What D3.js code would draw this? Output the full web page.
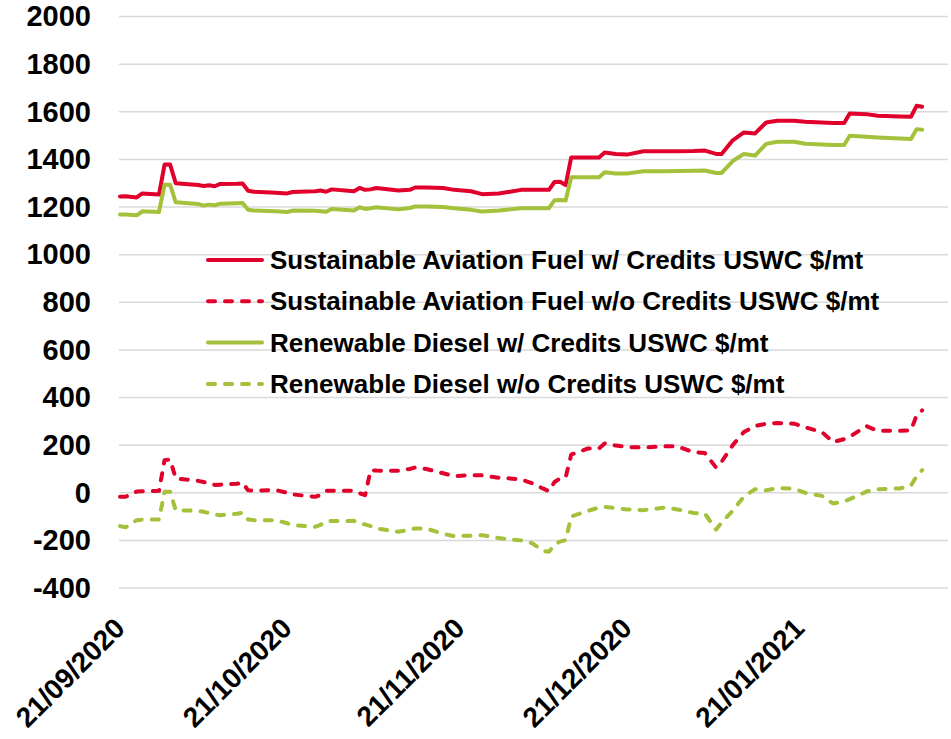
<!DOCTYPE html>
<html>
<head>
<meta charset="utf-8">
<script src="https://cdn.jsdelivr.net/npm/d3@7"></script>
<style>
  body { margin: 0; background: #ffffff; }
  text { font-family: "Liberation Sans", Arial, sans-serif; font-weight: bold; fill: #000000; }
</style>
</head>
<body>
<div id="grafiekContainer"></div>
<script>

// datums van de metingen
var datums = [
  "2020-09-21","2020-09-22","2020-09-24","2020-09-25","2020-09-28","2020-09-29","2020-09-30","2020-10-01",
  "2020-10-05","2020-10-06","2020-10-07","2020-10-08","2020-10-09","2020-10-12","2020-10-13","2020-10-14",
  "2020-10-15","2020-10-19","2020-10-21","2020-10-22","2020-10-26","2020-10-27","2020-10-28","2020-10-29",
  "2020-11-02","2020-11-03","2020-11-04","2020-11-05","2020-11-06","2020-11-10","2020-11-12","2020-11-13",
  "2020-11-15","2020-11-18","2020-11-20","2020-11-23","2020-11-25","2020-11-28","2020-11-30","2020-12-02",
  "2020-12-04","2020-12-06","2020-12-07","2020-12-08","2020-12-09","2020-12-10","2020-12-11","2020-12-14",
  "2020-12-16","2020-12-17","2020-12-19","2020-12-21","2020-12-24","2020-12-28","2020-12-30","2021-01-02",
  "2021-01-04","2021-01-06","2021-01-07","2021-01-09","2021-01-11","2021-01-13","2021-01-15","2021-01-17",
  "2021-01-20","2021-01-22","2021-01-25","2021-01-27","2021-01-29","2021-01-30","2021-02-02","2021-02-04",
  "2021-02-08","2021-02-10","2021-02-11","2021-02-12"];

// Sustainable Aviation Fuel w/ Credits
var safMet = [
  1244, 1245, 1240, 1257, 1252, 1378, 1378, 1300,
  1292, 1288, 1291, 1287, 1297, 1298, 1299, 1268,
  1264, 1260, 1257, 1263, 1266, 1269, 1264, 1274,
  1266, 1280, 1272, 1274, 1280, 1269, 1272, 1282,
  1282, 1280, 1272, 1266, 1254, 1257, 1264, 1272,
  1272, 1272, 1272, 1305, 1306, 1292, 1408, 1408,
  1408, 1429, 1423, 1420, 1434, 1434, 1434, 1435,
  1437, 1423, 1423, 1480, 1513, 1509, 1555, 1562,
  1562, 1558, 1555, 1553, 1553, 1593, 1590, 1583,
  1580, 1579, 1625, 1621];

// Sustainable Aviation Fuel w/o Credits
var safZonder = [
  -17, -17, 5, 6, 8, 137, 140, 60,
  50, 45, 40, 33, 34, 38, 42, 10,
  9, 11, 0, -7, -17, -10, 8, 8,
  8, -2, -10, 95, 93, 92, 100, 106,
  100, 82, 70, 74, 73, 63, 60, 56,
  40, 17, 7, 45, 60, 64, 160, 186,
  186, 207, 198, 192, 190, 195, 195, 170,
  167, 106, 130, 200, 255, 280, 290, 293,
  290, 275, 255, 213, 225, 235, 280, 260,
  260, 262, 325, 346];

// Renewable Diesel w/ Credits
var rdMet = [
  1168, 1168, 1165, 1182, 1179, 1293, 1293, 1220,
  1213, 1206, 1210, 1207, 1214, 1216, 1217, 1188,
  1185, 1182, 1179, 1185, 1184, 1182, 1180, 1192,
  1185, 1199, 1192, 1195, 1199, 1190, 1196, 1202,
  1202, 1200, 1195, 1188, 1181, 1185, 1190, 1195,
  1195, 1195, 1195, 1228, 1229, 1227, 1325, 1325,
  1325, 1346, 1341, 1341, 1350, 1350, 1351, 1352,
  1353, 1343, 1343, 1393, 1423, 1416, 1465, 1474,
  1474, 1466, 1462, 1460, 1460, 1499, 1495, 1492,
  1488, 1486, 1527, 1524];

// Renewable Diesel w/o Credits
var rdZonder = [
  -140, -145, -115, -113, -112, 4, 4, -73,
  -76, -80, -85, -92, -94, -88, -84, -112,
  -115, -115, -128, -136, -143, -135, -119, -119,
  -118, -128, -133, -140, -150, -164, -155, -150,
  -150, -173, -182, -180, -178, -190, -196, -200,
  -212, -244, -248, -218, -205, -199, -100, -76,
  -62, -59, -65, -70, -73, -62, -70, -85,
  -88, -155, -125, -75, -16, 15, 10, 20,
  17, 0, -13, -45, -36, -27, 5, 15,
  18, 30, 70, 95];

var legendaLabels = [
  "Sustainable Aviation Fuel w/ Credits USWC $/mt",
  "Sustainable Aviation Fuel w/o Credits USWC $/mt",
  "Renewable Diesel w/ Credits USWC $/mt",
  "Renewable Diesel w/o Credits USWC $/mt"];

var yTicks = [-400, -200, 0, 200, 400, 600, 800, 1000, 1200, 1400, 1600, 1800, 2000];
var xTickDatums = ["2020-09-21", "2020-10-21", "2020-11-21", "2020-12-21", "2021-01-21"];
var asBegin = "2020-09-21";
var asEinde = "2021-02-17";

// afmetingen vast leggen
var breedte = 951;
var hoogte = 739;
var marge = {boven: 16.5, beneden: 588, links: 120, rechts: 950};

var rood = "#e0002b";
var groen = "#a3c13a";

var leesDatum = d3.timeParse("%Y-%m-%d");
var schrijfDatum = d3.timeFormat("%d/%m/%Y");

// maak een SVG element
var svg = d3.select("#grafiekContainer")
            .append("svg")
            .attr("width", breedte)
            .attr("height", hoogte);

// schaalfuncties
var x = d3.scaleTime()
          .domain([leesDatum(asBegin), leesDatum(asEinde)])
          .range([marge.links, marge.rechts]);

var y = d3.scaleLinear()
          .domain([-400, 2000])
          .range([marge.beneden, marge.boven]);

// rasterlijnen
svg.append("g")
   .attr("class", "raster")
   .selectAll("line")
   .data(yTicks)
   .enter()
   .append("line")
   .attr("x1", marge.links - 1)
   .attr("x2", 948)
   .attr("y1", function(d) { return y(d); })
   .attr("y2", function(d) { return y(d); })
   .attr("stroke", "#d9d9d9")
   .attr("stroke-width", 1.5);

// y-as, getallen zonder duizendtal-komma
var asY = d3.axisLeft(y)
            .tickValues(yTicks)
            .tickFormat(function(d) { return String(d); })
            .tickSize(0)
            .tickPadding(29);

svg.append("g")
   .attr("class", "yAs")
   .attr("transform", "translate(" + marge.links + ",0)")
   .call(asY)
   .call(function(g) { g.select(".domain").remove(); })
   .selectAll("text")
   .attr("font-family", "Liberation Sans, Arial, sans-serif")
   .attr("font-weight", "bold")
   .attr("font-size", "29px")
   .attr("fill", "#000");

// x-as met schuine labels
var asX = d3.axisBottom(x)
            .tickValues(xTickDatums.map(leesDatum))
            .tickFormat(schrijfDatum)
            .tickSize(0);

svg.append("g")
   .attr("class", "xAs")
   .attr("transform", "translate(0," + marge.beneden + ")")
   .call(asX)
   .call(function(g) { g.select(".domain").remove(); })
   .selectAll("text")
   .attr("font-family", "Liberation Sans, Arial, sans-serif")
   .attr("font-weight", "bold")
   .attr("font-size", "28px")
   .attr("fill", "#000")
   .attr("text-anchor", "end")
   .attr("x", 0)
   .attr("y", 0)
   .attr("dy", 0)
   .attr("transform", "translate(6,42) rotate(-45)");

// de vier reeksen
var reeksen = [
  {naam: legendaLabels[0], waarden: safMet, kleur: rood, streep: null},
  {naam: legendaLabels[1], waarden: safZonder, kleur: rood, streep: "7,10"},
  {naam: legendaLabels[2], waarden: rdMet, kleur: groen, streep: null},
  {naam: legendaLabels[3], waarden: rdZonder, kleur: groen, streep: "7,10"}];

var lijn = d3.line()
             .x(function(d) { return x(d.datum); })
             .y(function(d) { return y(d.waarde); });

reeksen.forEach(function(r) {
  var punten = datums.map(function(d, i) {
    return {datum: leesDatum(d), waarde: r.waarden[i]};
  });
  svg.append("path")
     .datum(punten)
     .attr("d", lijn)
     .attr("fill", "none")
     .attr("stroke", r.kleur)
     .attr("stroke-width", 4)
     .attr("stroke-linejoin", "round")
     .attr("stroke-linecap", "round")
     .attr("stroke-dasharray", r.streep);
});

// legenda
var legenda = svg.append("g")
                 .attr("class", "legenda")
                 .selectAll("g")
                 .data(reeksen)
                 .enter()
                 .append("g")
                 .attr("transform", function(d, i) {
                   return "translate(206," + (260 + i * 41.3) + ")"; });

legenda.append("line")
       .attr("x1", 2)
       .attr("x2", 56)
       .attr("y1", 0)
       .attr("y2", 0)
       .attr("stroke", function(d) { return d.kleur; })
       .attr("stroke-width", 4)
       .attr("stroke-linecap", "round")
       .attr("stroke-dasharray", function(d) { return d.streep; });

legenda.append("text")
       .attr("x", 64)
       .attr("dy", "0.35em")
       .attr("font-size", "26px")
       .text(function(d) { return d.naam; });

</script>
</body>
</html>
